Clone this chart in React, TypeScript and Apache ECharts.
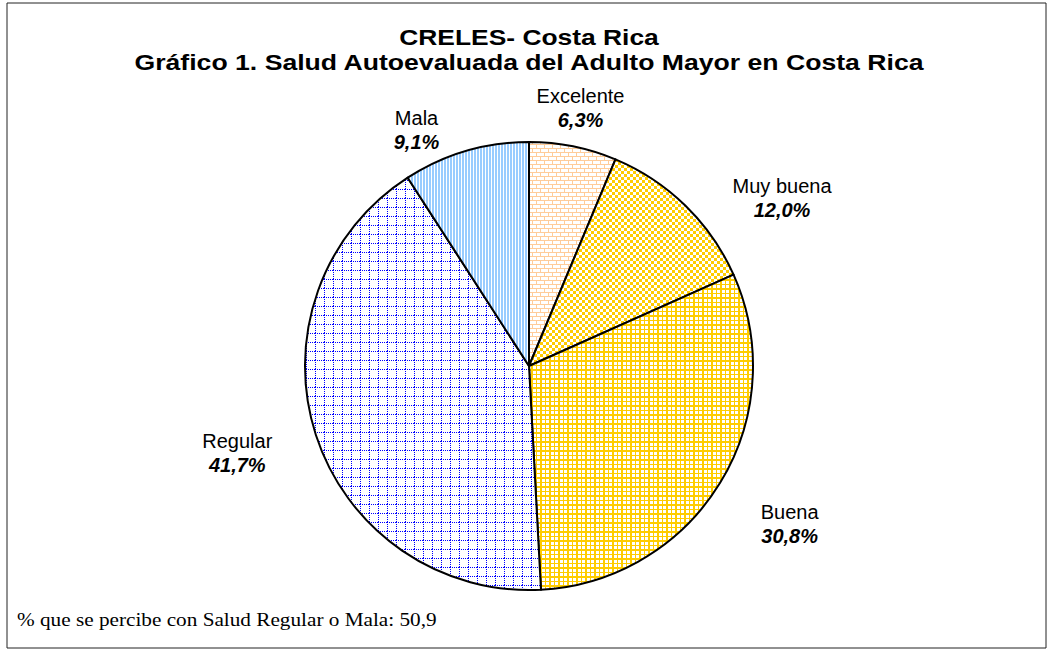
import React, { useEffect, useRef } from "react";
import * as echarts from "echarts";

const categories = ["Excelente", "Muy buena", "Buena", "Regular", "Mala"];
const values = [6.3, 12.0, 30.8, 41.7, 9.1];
const pctLabels = ["6,3%", "12,0%", "30,8%", "41,7%", "9,1%"];
const titleLines = ["CRELES- Costa Rica", "Gráfico 1. Salud Autoevaluada del Adulto Mayor en Costa Rica"];
const noteText = "% que se percibe con Salud Regular o Mala: 50,9";

// layout constants (label nudges relative to the radial position)
const labelNudge: [number, number][] = [
  [0, -1],
  [55, 35],
  [9, 4],
  [-3, -6],
  [-38, 17],
];

function tile(w: number, h: number, draw: (ctx: CanvasRenderingContext2D) => void) {
  const c = document.createElement("canvas");
  c.width = w;
  c.height = h;
  const ctx = c.getContext("2d")!;
  ctx.fillStyle = "#ffffff";
  ctx.fillRect(0, 0, w, h);
  draw(ctx);
  return c;
}

function makePatterns() {
  const brick = tile(8, 8, (ctx) => {
    ctx.fillStyle = "#ffcc99";
    ctx.fillRect(0, 0, 8, 1);
    ctx.fillRect(0, 4, 8, 1);
    ctx.fillRect(0, 0, 1, 4);
    ctx.fillRect(4, 4, 1, 4);
  });
  const checker = tile(6, 6, (ctx) => {
    ctx.fillStyle = "#ffcc00";
    ctx.fillRect(0, 0, 3, 3);
    ctx.fillRect(3, 3, 3, 3);
  });
  const grid = tile(9, 9, (ctx) => {
    ctx.fillStyle = "#ffcc00";
    ctx.fillRect(0, 0, 9, 2);
    ctx.fillRect(0, 5, 9, 1);
    ctx.fillRect(0, 0, 2, 9);
    ctx.fillRect(5, 0, 1, 9);
  });
  const dotted = tile(9, 9, (ctx) => {
    ctx.fillStyle = "#0000ff";
    for (let i = 0; i < 9; i += 2) {
      ctx.fillRect(i, 0, 1, 1);
      ctx.fillRect(0, i, 1, 1);
    }
  });
  const stripes = tile(3, 3, (ctx) => {
    ctx.fillStyle = "#99ccff";
    ctx.fillRect(0, 0, 2, 3);
  });
  return [brick, checker, grid, dotted, stripes];
}

export default function App() {
  const ref = useRef<HTMLDivElement>(null);
  useEffect(() => {
    document.body.style.margin = "0";
    const chart = echarts.init(ref.current!, undefined, { renderer: "svg" });
    const pats = makePatterns();
    const cx = 529;
    const cy = 366;
    const r = 224;
    const total = values.reduce((a, b) => a + b, 0);
    const cum: number[] = [];
    values.reduce((acc, v) => {
      cum.push(acc);
      return acc + v;
    }, 0);
    const titleStyle = {
      fontFamily: "Liberation Sans, Arial",
      fontWeight: "bold",
      fontSize: 22,
      fill: "#000",
      align: "center",
      verticalAlign: "middle",
    };
    chart.setOption({
      animation: false,
      backgroundColor: "#ffffff",
      graphic: [
        {
          type: "rect",
          shape: { x: 7, y: 3, width: 1039, height: 645 },
          style: { fill: "none", stroke: "#222", lineWidth: 1 },
          silent: true,
        },
        {
          type: "text",
          x: cx,
          y: 37,
          scaleX: 1.2,
          style: { ...titleStyle, text: titleLines[0] },
        },
        {
          type: "text",
          x: cx,
          y: 62,
          scaleX: 1.21,
          style: { ...titleStyle, text: titleLines[1] },
        },
        {
          type: "text",
          x: 17,
          y: 620,
          scaleX: 1.18,
          style: {
            text: noteText,
            fontFamily: "Liberation Serif, Times New Roman",
            fontSize: 18,
            fill: "#000",
            verticalAlign: "middle",
          },
        },
      ],
      series: [
        {
          type: "pie",
          center: [cx, cy],
          radius: r,
          startAngle: 90,
          clockwise: true,
          data: categories.map((name, i) => ({
            name,
            value: values[i],
            itemStyle: { color: { image: pats[i], repeat: "repeat" } },
          })),
          itemStyle: { borderColor: "#000", borderWidth: 2 },
          label: {
            show: true,
            position: "outside",
            formatter: (p: any) => `{n|${p.name}}\n{p|${pctLabels[p.dataIndex]}}`,
            rich: {
              n: { fontFamily: "Liberation Sans, Arial", fontSize: 20, color: "#000", lineHeight: 24, align: "center" },
              p: {
                fontFamily: "Liberation Sans, Arial",
                fontSize: 20,
                fontWeight: "bold",
                fontStyle: "italic",
                color: "#000",
                lineHeight: 24,
                align: "center",
              },
            },
          },
          labelLine: { show: false },
          labelLayout: (params: any) => {
            const i = params.dataIndex;
            const th = ((cum[i] + values[i] / 2) / total) * Math.PI * 2;
            const s = Math.sin(th);
            const d = r + 36 + 48 * s * s;
            return {
              x: cx + d * s + labelNudge[i][0],
              y: cy - d * Math.cos(th) + labelNudge[i][1],
              align: "center",
              verticalAlign: "middle",
            };
          },
          emphasis: { disabled: true },
        },
      ],
    });
    return () => chart.dispose();
  }, []);
  return <div ref={ref} style={{ width: 1047, height: 649 }} />;
}
